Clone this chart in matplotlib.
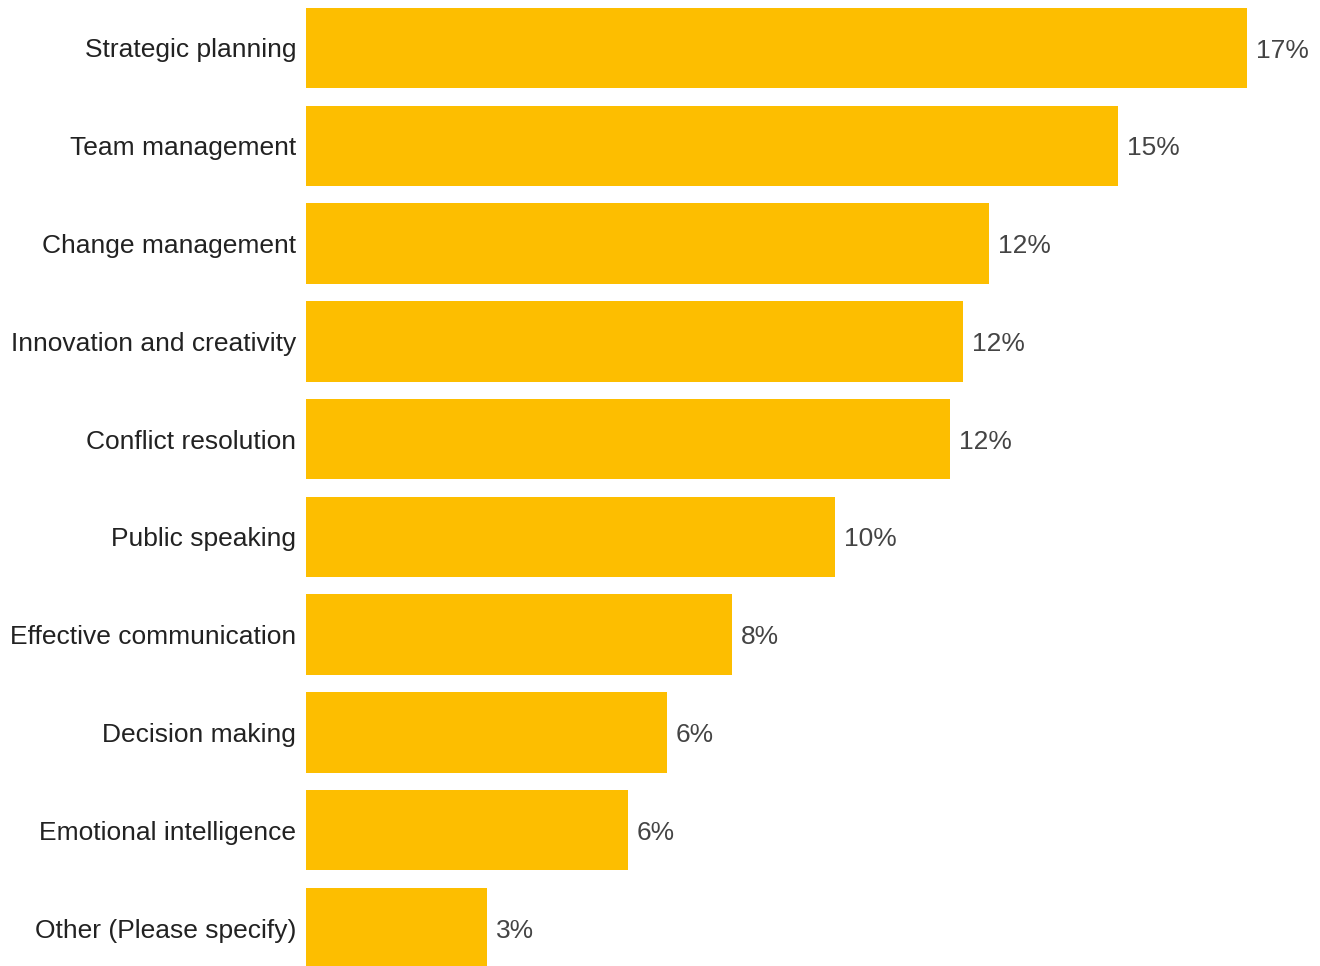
import matplotlib
matplotlib.use("Agg")
import matplotlib.pyplot as plt

categories = ["Strategic planning", "Team management", "Change management",
              "Innovation and creativity", "Conflict resolution", "Public speaking",
              "Effective communication", "Decision making", "Emotional intelligence",
              "Other (Please specify)"]
values = [16.92, 14.60, 12.28, 11.81, 11.58, 9.51, 7.66, 6.49, 5.79, 3.25]
value_labels = ["17%", "15%", "12%", "12%", "12%", "10%", "8%", "6%", "6%", "3%"]

W, H = 1320, 966
fig = plt.figure(figsize=(W / 100, H / 100), dpi=100)
ax = fig.add_axes([306 / W, 0, 1 - 306 / W, 1])

pitch = 97.78
pos = list(range(len(categories)))
ax.barh(pos, values, height=80.5 / pitch, color="#FDBE00")
ax.set_ylim((966 - 48) / pitch, -48 / pitch)
ax.set_xlim(0, 1014 / (941 / 16.92))

ax.set_yticks(pos)
ax.set_yticklabels(categories, fontsize=19, color="#222222", family="Liberation Sans")
ax.tick_params(axis="y", length=0, pad=7)
ax.set_xticks([])
for s in ax.spines.values():
    s.set_visible(False)

for p, v, lab in zip(pos, values, value_labels):
    ax.annotate(lab, (v, p), xytext=(6.5, 0), textcoords="offset points",
                va="center_baseline", ha="left", fontsize=19, color="#444444",
                family="Liberation Sans")

fig.savefig("out.png", dpi=100)
